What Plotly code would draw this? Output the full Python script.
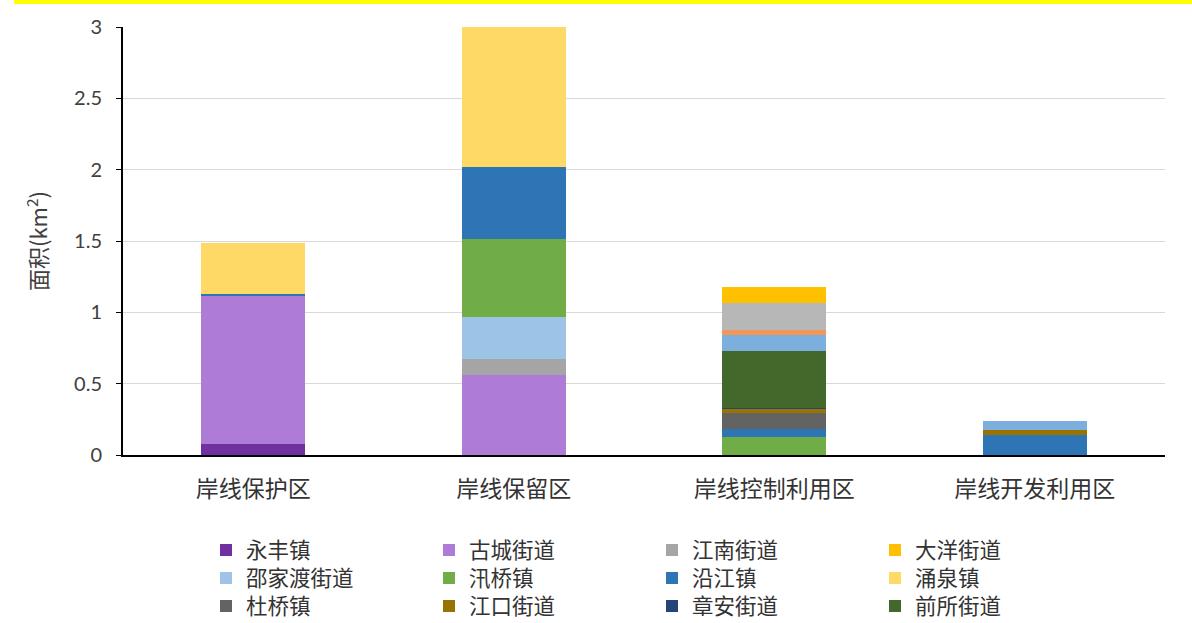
import plotly.graph_objects as go

categories = ["岸线保护区", "岸线保留区", "岸线控制利用区", "岸线开发利用区"]

# series values per category (km²), stacking order bottom -> top
yongfeng   = [0.075, 0, 0, 0]      # 永丰镇
gucheng    = [1.04, 0.558, 0, 0]   # 古城街道
jiangnan   = [0, 0.112, 0, 0]      # 江南街道
shaojiadu  = [0, 0.30, 0, 0]       # 邵家渡街道
xunqiao    = [0, 0.545, 0.128, 0]  # 汛桥镇
yanjiang   = [0.015, 0.504, 0.052, 0.14]  # 沿江镇
duqiao     = [0, 0, 0.116, 0]      # 杜桥镇
jiangkou   = [0, 0, 0.030, 0.035]  # 江口街道
zhangan    = [0, 0, 0.004, 0]      # 章安街道
qiansuo    = [0, 0, 0.402, 0]      # 前所街道
extra_lb   = [0, 0, 0.110, 0.065]  # unlabelled series (light blue)
extra_or   = [0, 0, 0.037, 0]      # unlabelled series (orange)
extra_gy   = [0, 0, 0.184, 0]      # unlabelled series (gray)
yongquan   = [0.355, 0.982, 0, 0]  # 涌泉镇
dayang     = [0, 0, 0.117, 0]      # 大洋街道

# (name, values, colour, legend row, rank within row, shown in legend)
series = [
    ("永丰镇", yongfeng, "#7030A0", "legend", 1, True),
    ("古城街道", gucheng, "#AE7BD6", "legend", 2, True),
    ("江南街道", jiangnan, "#A5A5A5", "legend", 3, True),
    ("邵家渡街道", shaojiadu, "#9DC3E6", "legend2", 1, True),
    ("汛桥镇", xunqiao, "#70AD47", "legend2", 2, True),
    ("沿江镇", yanjiang, "#2E75B6", "legend2", 3, True),
    ("杜桥镇", duqiao, "#636363", "legend3", 1, True),
    ("江口街道", jiangkou, "#997300", "legend3", 2, True),
    ("章安街道", zhangan, "#264478", "legend3", 3, True),
    ("前所街道", qiansuo, "#43682B", "legend3", 4, True),
    ("系列13", extra_lb, "#7CAFDD", "legend3", 20, False),
    ("系列14", extra_or, "#F1975A", "legend3", 21, False),
    ("系列15", extra_gy, "#B7B7B7", "legend3", 22, False),
    ("涌泉镇", yongquan, "#FFD966", "legend2", 4, True),
    ("大洋街道", dayang, "#FFC000", "legend", 4, True),
]

fig = go.Figure()
for name, vals, color, leg, rank, show in series:
    fig.add_trace(go.Bar(
        x=categories, y=vals, name=name,
        marker=dict(color=color, line=dict(width=0)),
        legend=leg, legendrank=rank, showlegend=show,
    ))

W, H = 1192, 623
L, R, T, B = 123, 27, 27, 168
pw, ph = W - L - R, H - T - B
bottom = T + ph

def legend_row(center_px):
    return dict(
        orientation="h", x=(206 - L) / pw, xanchor="left",
        y=-(center_px - bottom) / ph, yanchor="middle",
        entrywidth=178, entrywidthmode="pixels",
        font=dict(size=21.5, family="'Noto Sans CJK SC', sans-serif", color="#333333"),
        traceorder="normal", itemwidth=30, bgcolor="rgba(0,0,0,0)",
    )

fig.update_layout(
    barmode="stack",
    bargap=0.6,
    width=W, height=H,
    margin=dict(l=L, r=R, t=T, b=B, autoexpand=False),
    paper_bgcolor="white", plot_bgcolor="white",
    font=dict(family="Lato, 'Noto Sans CJK SC', sans-serif", size=18, color="#404040"),
    yaxis=dict(
        range=[0, 3], dtick=0.5, tickformat="~g",
        showgrid=True, gridcolor="#D9D9D9", gridwidth=1,
        showline=True, linecolor="black", linewidth=2,
        ticks="outside", ticklen=5, tickcolor="black",
        ticklabelstandoff=10,
        tickfont=dict(size=20),
        title=dict(text="面积(km<sup>2</sup>)",
                   font=dict(size=22, family="'Noto Sans CJK SC', Lato, sans-serif"),
                   standoff=20),
        zeroline=False,
    ),
    xaxis=dict(
        showline=True, linecolor="black", linewidth=2,
        ticks="", tickfont=dict(size=23, family="'Noto Sans CJK SC', sans-serif", color="#333333"),
        ticklabelstandoff=12,
    ),
    legend=legend_row(550),
    legend2=legend_row(578),
    legend3=legend_row(606),
    shapes=[dict(type="rect", xref="paper", yref="paper",
                 x0=(14 - L) / pw, x1=(W - L) / pw, y0=1 + (T - 4) / ph, y1=1 + T / ph,
                 fillcolor="#FFFF00", line=dict(width=0), layer="above")],
)

fig.write_html("out.html", config={"displayModeBar": False},
               post_script="document.body.style.margin='0';")
